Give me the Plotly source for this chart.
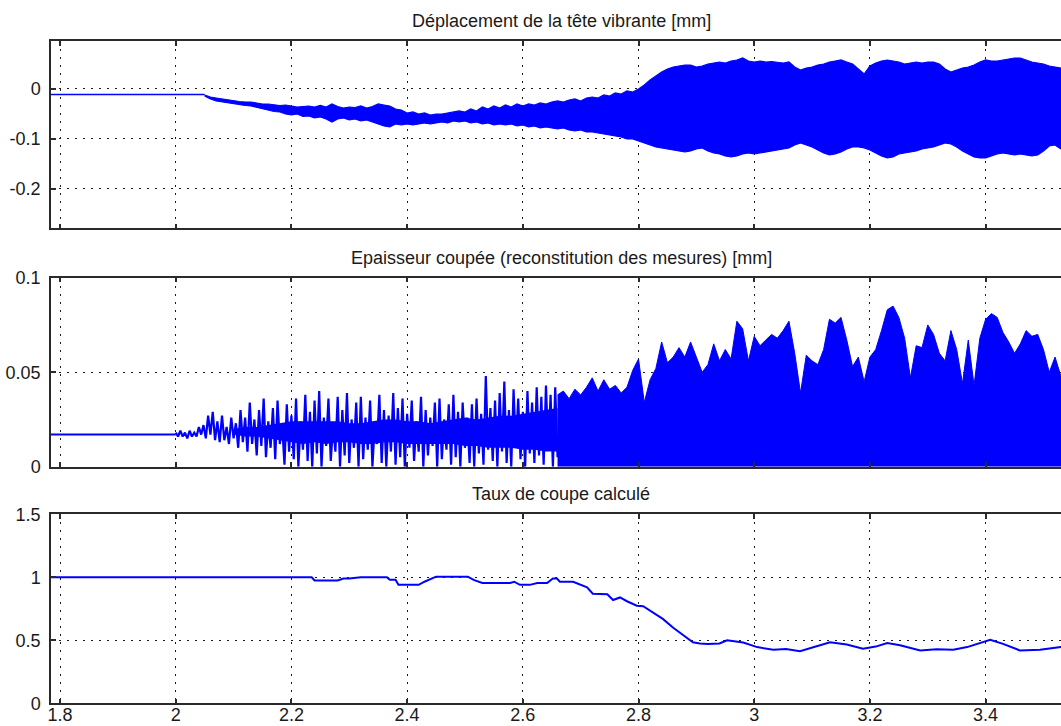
import plotly.graph_objects as go
from plotly.subplots import make_subplots

# ---------------- common time axis (s)
x_ticks = [1.8, 2.0, 2.2, 2.4, 2.6, 2.8, 3.0, 3.2, 3.4]
x_tick_labels = ["1.8", "2", "2.2", "2.4", "2.6", "2.8", "3", "3.2", "3.4"]

# ---------------- 1) déplacement de la tête vibrante [mm]
disp_rest_t = [1.78, 2.05]
disp_rest = [-0.011, -0.011]
# envelope of the vibration band, one value every 0.01 s from 2.05 s
disp_t0, disp_dt = 2.05, 0.01
disp_hi = [
    -0.012, -0.016, -0.018, -0.020, -0.022, -0.024, -0.025, -0.026, -0.026, -0.028,
    -0.030, -0.030, -0.031, -0.033, -0.032, -0.034, -0.036, -0.035, -0.034, -0.036,
    -0.033, -0.036, -0.030, -0.035, -0.038, -0.036, -0.037, -0.034, -0.038, -0.035,
    -0.030, -0.032, -0.034, -0.040, -0.042, -0.048, -0.046, -0.050, -0.048, -0.052,
    -0.050, -0.050, -0.048, -0.046, -0.044, -0.046, -0.040, -0.044, -0.036, -0.040,
    -0.034, -0.038, -0.032, -0.036, -0.030, -0.034, -0.030, -0.032, -0.028, -0.030,
    -0.026, -0.024, -0.026, -0.022, -0.020, -0.024, -0.018, -0.016, -0.018, -0.012,
    -0.014, -0.008, -0.010, -0.004, -0.006, 0.000, 0.008, 0.018, 0.026, 0.034,
    0.040, 0.044, 0.046, 0.048, 0.048, 0.044, 0.046, 0.050, 0.052, 0.054,
    0.052, 0.056, 0.058, 0.062, 0.056, 0.054, 0.056, 0.054, 0.055, 0.054,
    0.052, 0.054, 0.044, 0.038, 0.042, 0.044, 0.048, 0.050, 0.054, 0.056,
    0.058, 0.054, 0.050, 0.040, 0.030, 0.046, 0.052, 0.056, 0.058, 0.056,
    0.054, 0.050, 0.052, 0.054, 0.052, 0.054, 0.054, 0.050, 0.040, 0.034,
    0.038, 0.042, 0.044, 0.048, 0.054, 0.058, 0.056, 0.056, 0.058, 0.060,
    0.062, 0.062, 0.058, 0.054, 0.052, 0.050, 0.046, 0.044, 0.042, 0.040,
    0.040,
]
disp_lo = [
    -0.014, -0.020, -0.024, -0.026, -0.027, -0.030, -0.031, -0.033, -0.034, -0.037,
    -0.040, -0.042, -0.045, -0.046, -0.050, -0.052, -0.050, -0.055, -0.054, -0.058,
    -0.056, -0.060, -0.066, -0.060, -0.058, -0.062, -0.060, -0.064, -0.062, -0.066,
    -0.070, -0.074, -0.076, -0.070, -0.072, -0.070, -0.072, -0.070, -0.068, -0.070,
    -0.068, -0.066, -0.068, -0.064, -0.066, -0.064, -0.068, -0.066, -0.070, -0.068,
    -0.072, -0.070, -0.072, -0.070, -0.074, -0.072, -0.076, -0.074, -0.078, -0.076,
    -0.078, -0.080, -0.078, -0.082, -0.084, -0.082, -0.086, -0.086, -0.088, -0.090,
    -0.092, -0.094, -0.096, -0.100, -0.100, -0.104, -0.108, -0.112, -0.116, -0.118,
    -0.120, -0.122, -0.124, -0.126, -0.124, -0.120, -0.118, -0.124, -0.128, -0.130,
    -0.134, -0.136, -0.134, -0.130, -0.128, -0.130, -0.128, -0.126, -0.124, -0.122,
    -0.120, -0.118, -0.112, -0.108, -0.112, -0.116, -0.122, -0.128, -0.132, -0.130,
    -0.126, -0.120, -0.116, -0.116, -0.118, -0.122, -0.128, -0.134, -0.138, -0.136,
    -0.130, -0.128, -0.126, -0.124, -0.120, -0.118, -0.116, -0.112, -0.108, -0.110,
    -0.116, -0.124, -0.130, -0.136, -0.138, -0.138, -0.134, -0.130, -0.128, -0.130,
    -0.132, -0.130, -0.132, -0.134, -0.132, -0.124, -0.114, -0.112, -0.120, -0.120,
    -0.120,
]
disp_y_ticks = [-0.2, -0.1, 0]
disp_y_labels = ["-0.2", "-0.1", "0"]

# ---------------- 2) épaisseur coupée [mm]
cut_rest_t = [1.78, 2.0]
cut_rest = [0.017, 0.017]
# sparse part: one peak / trough pair every 0.008 s from 2.0 s
cut_t0, cut_dt = 2.0, 0.008
cut_peak = [
    0.018, 0.019, 0.018, 0.019, 0.018, 0.021, 0.022, 0.027, 0.029, 0.024,
    0.027, 0.021, 0.026, 0.023, 0.030, 0.026, 0.034, 0.025, 0.030, 0.036,
    0.024, 0.031, 0.035, 0.022, 0.033, 0.027, 0.036, 0.024, 0.038, 0.029,
    0.035, 0.040, 0.026, 0.036, 0.022, 0.037, 0.030, 0.039, 0.025, 0.034,
    0.037, 0.026, 0.035, 0.022, 0.038, 0.030, 0.027, 0.039, 0.031, 0.036,
    0.028, 0.035, 0.024, 0.037, 0.030, 0.026, 0.034, 0.036, 0.025, 0.033,
    0.038, 0.029, 0.034, 0.026, 0.033, 0.036, 0.028, 0.048, 0.031, 0.035,
    0.039, 0.045, 0.030, 0.041, 0.036, 0.029, 0.040, 0.034, 0.042, 0.037,
    0.043, 0.038, 0.042,
]
cut_trough = [
    0.016, 0.016, 0.015, 0.016, 0.016, 0.017, 0.015, 0.017, 0.014, 0.013,
    0.014, 0.012, 0.015, 0.010, 0.013, 0.008, 0.012, 0.006, 0.011, 0.005,
    0.010, 0.004, 0.012, 0.001, 0.008, 0.004, 0.000, 0.009, 0.003, 0.000,
    0.007, 0.000, 0.011, 0.003, 0.008, 0.000, 0.006, 0.002, 0.010, 0.000,
    0.004, 0.009, 0.000, 0.012, 0.002, 0.000, 0.008, 0.001, 0.005, 0.000,
    0.010, 0.003, 0.008, 0.000, 0.006, 0.011, 0.000, 0.004, 0.009, 0.001,
    0.005, 0.000, 0.010, 0.002, 0.000, 0.007, 0.001, 0.009, 0.003, 0.000,
    0.008, 0.002, 0.000, 0.010, 0.004, 0.000, 0.007, 0.002, 0.006, 0.001,
    0.009, 0.000, 0.005,
]
# densest blue core of the sparse part, every 0.02 s from 2.10 s
core_t0, core_dt = 2.10, 0.02
core_lo = [
    0.017, 0.016, 0.016, 0.015, 0.014, 0.013, 0.012, 0.013, 0.012, 0.013,
    0.013, 0.012, 0.012, 0.013, 0.013, 0.012, 0.012, 0.012, 0.012, 0.012,
    0.011, 0.011, 0.010, 0.010, 0.010, 0.009, 0.009, 0.008, 0.008,
]
core_hi = [
    0.020, 0.021, 0.021, 0.022, 0.023, 0.024, 0.024, 0.024, 0.024, 0.024,
    0.023, 0.023, 0.024, 0.025, 0.025, 0.024, 0.024, 0.023, 0.024, 0.025,
    0.026, 0.025, 0.026, 0.027, 0.027, 0.028, 0.029, 0.030, 0.031,
]
# dense part: upper envelope every 0.01 s from 2.66 s (filled down to 0)
cut_env_t0, cut_env_dt = 2.66, 0.01
cut_env = [
    0.038, 0.040, 0.036, 0.041, 0.038, 0.042, 0.047, 0.040, 0.046, 0.041,
    0.043, 0.039, 0.042, 0.051, 0.057, 0.034, 0.046, 0.052, 0.066, 0.055,
    0.058, 0.063, 0.058, 0.066, 0.058, 0.050, 0.054, 0.065, 0.056, 0.062,
    0.057, 0.077, 0.073, 0.056, 0.069, 0.064, 0.067, 0.070, 0.068, 0.072,
    0.077, 0.060, 0.039, 0.059, 0.056, 0.054, 0.062, 0.078, 0.076, 0.079,
    0.067, 0.053, 0.058, 0.045, 0.058, 0.062, 0.072, 0.083, 0.085, 0.079,
    0.068, 0.047, 0.064, 0.063, 0.075, 0.070, 0.060, 0.056, 0.072, 0.062,
    0.044, 0.067, 0.043, 0.068, 0.078, 0.081, 0.079, 0.071, 0.066, 0.060,
    0.065, 0.072, 0.069, 0.070, 0.062, 0.050, 0.058, 0.048, 0.050, 0.050,
]
cut_y_ticks = [0, 0.05, 0.1]
cut_y_labels = ["0", "0.05", "0.1"]

# ---------------- 3) taux de coupe calculé
ratio_t = [
    1.78, 2.235, 2.24, 2.28, 2.29, 2.30, 2.32, 2.365, 2.37, 2.38,
    2.385, 2.42, 2.43, 2.45, 2.505, 2.515, 2.53, 2.578, 2.585, 2.595,
    2.612, 2.625, 2.642, 2.652, 2.659, 2.664, 2.687, 2.699, 2.711, 2.721,
    2.746, 2.756, 2.768, 2.78, 2.797, 2.808, 2.825, 2.842, 2.86, 2.877,
    2.894, 2.906, 2.92, 2.94, 2.953, 2.981, 3.005, 3.033, 3.055, 3.079,
    3.102, 3.131, 3.16, 3.188, 3.21, 3.23, 3.252, 3.287, 3.315, 3.344,
    3.368, 3.39, 3.408, 3.43, 3.459, 3.494, 3.53, 3.55,
]
ratio = [
    1.0, 1.0, 0.975, 0.975, 0.99, 0.99, 1.0, 1.0, 0.98, 0.98,
    0.94, 0.94, 0.965, 1.005, 1.005, 0.98, 0.955, 0.955, 0.965, 0.94,
    0.94, 0.955, 0.955, 0.99, 0.99, 0.965, 0.965, 0.94, 0.92, 0.87,
    0.865, 0.82, 0.84, 0.81, 0.775, 0.77, 0.72, 0.67, 0.60, 0.54,
    0.485, 0.475, 0.47, 0.475, 0.50, 0.483, 0.446, 0.425, 0.43, 0.414,
    0.446, 0.485, 0.467, 0.433, 0.45, 0.478, 0.46, 0.42, 0.428, 0.425,
    0.446, 0.48, 0.504, 0.472, 0.42, 0.425, 0.446, 0.44,
]
ratio_y_ticks = [0, 0.5, 1, 1.5]
ratio_y_labels = ["0", "0.5", "1", "1.5"]

titles = [
    "Déplacement de la tête vibrante [mm]",
    "Epaisseur coupée (reconstitution des mesures) [mm]",
    "Taux de coupe calculé",
]

BLUE = "#0000ff"
W, H = 1061, 726

# sample times
disp_t = [round(disp_t0 + i * disp_dt, 4) for i in range(len(disp_hi))]
zz_t, zz_v = [], []
for i, (p, q) in enumerate(zip(cut_peak, cut_trough)):
    t = cut_t0 + i * cut_dt
    zz_t += [t, t + cut_dt / 2]
    zz_v += [p, q]
core_t = [round(core_t0 + i * core_dt, 4) for i in range(len(core_lo))]
env_t = [round(cut_env_t0 + i * cut_env_dt, 4) for i in range(len(cut_env))]

fig = make_subplots(rows=3, cols=1)

# top
fig.add_trace(go.Scatter(x=disp_rest_t, y=disp_rest, mode="lines",
                         line=dict(color=BLUE, width=1.6)), row=1, col=1)
fig.add_trace(go.Scatter(x=disp_t, y=disp_lo, mode="lines",
                         line=dict(color=BLUE, width=1.2)), row=1, col=1)
fig.add_trace(go.Scatter(x=disp_t, y=disp_hi, mode="lines", fill="tonexty",
                         fillcolor=BLUE, line=dict(color=BLUE, width=1.2)), row=1, col=1)

# middle
fig.add_trace(go.Scatter(x=cut_rest_t, y=cut_rest, mode="lines",
                         line=dict(color=BLUE, width=2)), row=2, col=1)
fig.add_trace(go.Scatter(x=core_t, y=core_lo, mode="lines",
                         line=dict(color=BLUE, width=0)), row=2, col=1)
fig.add_trace(go.Scatter(x=core_t, y=core_hi, mode="lines", fill="tonexty",
                         fillcolor=BLUE, line=dict(color=BLUE, width=0)), row=2, col=1)
fig.add_trace(go.Scatter(x=zz_t, y=zz_v, mode="lines",
                         line=dict(color=BLUE, width=2.2)), row=2, col=1)
fig.add_trace(go.Scatter(x=env_t, y=cut_env, mode="lines", fill="tozeroy",
                         fillcolor=BLUE, line=dict(color=BLUE, width=1)),
              row=2, col=1)

# bottom
fig.add_trace(go.Scatter(x=ratio_t, y=ratio, mode="lines",
                         line=dict(color=BLUE, width=2)), row=3, col=1)

font = dict(family="Liberation Sans, Arial, sans-serif", size=18, color="#1a1a1a")
axis_common = dict(
    showline=True, linecolor="#2a2a2a", linewidth=1.5,
    ticks="inside", ticklen=5, tickwidth=1.5, tickcolor="#2a2a2a",
    showgrid=True, gridcolor="#1a1a1a", gridwidth=1, griddash="2px,6px",
    zeroline=False, tickfont=font, automargin=False,
)

# plot boxes in pixels (top, bottom) of the page
boxes = [(41, 228.3), (277.7, 466.7), (514.3, 703.3)]
y_ranges = [[-0.2787, 0.096], [0, 0.1], [0, 1.5]]
y_ticks = [(disp_y_ticks, disp_y_labels), (cut_y_ticks, cut_y_labels),
           (ratio_y_ticks, ratio_y_labels)]

for k in range(3):
    top, bot = boxes[k]
    fig.update_xaxes(axis_common, row=k + 1, col=1,
                     range=[1.7844, 3.5303], mirror="ticks",
                     tickvals=x_ticks, ticktext=x_tick_labels,
                     showticklabels=(k == 2), ticklabelstandoff=-6)
    fig.update_yaxes(axis_common, row=k + 1, col=1,
                     range=y_ranges[k], domain=[1 - bot / H, 1 - top / H],
                     tickvals=y_ticks[k][0], ticktext=y_ticks[k][1],
                     ticklabelstandoff=5)
    fig.add_annotation(text=titles[k], x=(561 - 51) / (W - 51), xref="paper",
                       y=1 - (top - 20) / H, yref="paper", yanchor="middle",
                       showarrow=False, font=font)

fig.update_layout(
    width=W, height=H, showlegend=False,
    margin=dict(l=51, r=0, t=0, b=0),
    paper_bgcolor="white", plot_bgcolor="white",
    font=font,
)

# page body has an 8px default margin: drop it so the figure sits at (0, 0)
fig.write_html("out.html", config={"displayModeBar": False},
               post_script="document.body.style.margin='0';"
                           "document.body.style.overflow='hidden';")
